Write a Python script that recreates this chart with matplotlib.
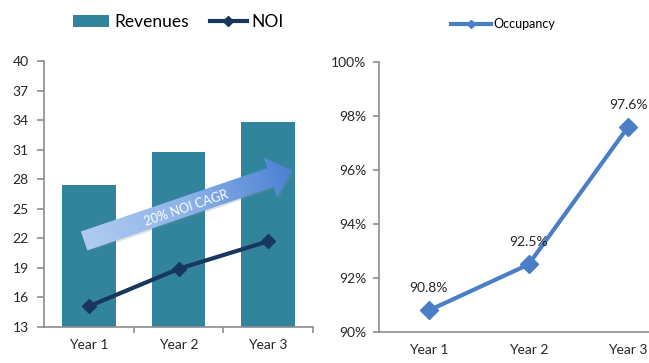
import numpy as np
import matplotlib
matplotlib.use('Agg')
import matplotlib.pyplot as plt
from matplotlib.patches import Polygon, Patch
from matplotlib.lines import Line2D
from matplotlib.transforms import Affine2D
from matplotlib.colors import LinearSegmentedColormap

plt.rcParams['font.family'] = ['Lato', 'DejaVu Sans']

years = ['Year 1', 'Year 2', 'Year 3']
revenues = [27.4, 30.8, 33.8]
noi = [15.1, 18.9, 21.7]
occupancy = [90.8, 92.5, 97.6]
rev_ticks = list(range(13, 41, 3))
occ_ticks = list(range(90, 101, 2))
cagr_label = '20% NOI CAGR'

BAR_COLOR = '#31849B'
NOI_COLOR = '#17375E'
OCC_COLOR = '#4A7EC6'
SPINE_COLOR = '#8C8C8C'
TEXT_COLOR = '#262626'


def style_axes(ax):
    for side in ('top', 'right'):
        ax.spines[side].set_visible(False)
    for side in ('left', 'bottom'):
        ax.spines[side].set_color(SPINE_COLOR)
        ax.spines[side].set_linewidth(1.2)
    ax.tick_params(colors=SPINE_COLOR, labelcolor=TEXT_COLOR, labelsize=10)


def draw_cagr_arrow(fig, ax):
    # arrow built flat in inches, then rotated and moved into place
    length, shaft, head_w, head_len = 2.2, 0.10, 0.21, 0.23
    angle = 18.8
    pts = [(0, -shaft), (length - head_len, -shaft), (length - head_len, -head_w),
           (length, 0), (length - head_len, head_w), (length - head_len, shaft),
           (0, shaft)]
    tr = Affine2D().rotate_deg(angle).translate(0.84, 1.22) + fig.dpi_scale_trans

    shadow_tr = Affine2D().rotate_deg(angle).translate(0.855, 1.205) + fig.dpi_scale_trans
    ax.add_patch(Polygon(pts, closed=True, transform=shadow_tr, facecolor='#7f8c99',
                         alpha=0.25, edgecolor='none', zorder=3))

    poly = Polygon(pts, closed=True, transform=tr, facecolor='none', edgecolor='none', zorder=4)
    ax.add_patch(poly)
    cmap = LinearSegmentedColormap.from_list('cagr', ['#b0cbf0', '#8db2e8', '#4a80d2'])
    grad = np.linspace(0, 1, 256).reshape(1, -1)
    im = ax.imshow(grad, cmap=cmap, extent=(0, length, -head_w, head_w), transform=tr,
                   aspect='auto', interpolation='bilinear', zorder=4)
    im.set_clip_path(poly)
    ax.text(1.07, -0.02, cagr_label, transform=tr, rotation=angle, rotation_mode='anchor',
            ha='center', va='center', color='white', fontsize=9, zorder=5)


fig = plt.figure(figsize=(6.49, 3.63), dpi=100)

# left panel: revenues and NOI
ax1 = fig.add_axes([0.0678, 0.0992, 0.4145, 0.7328])
x = np.arange(len(years))
ax1.bar(x, revenues, width=0.6, color=BAR_COLOR, zorder=2)
ax1.plot(x, noi, color=NOI_COLOR, lw=3, marker='D', ms=7, zorder=6)
draw_cagr_arrow(fig, ax1)
ax1.set_xlim(-0.5, 2.5)
ax1.set_ylim(13, 40)
ax1.set_yticks(rev_ticks)
ax1.set_xticks(x)
ax1.set_xticklabels(years)
ax1.set_xticks([0.5, 1.5, 2.5], minor=True)
style_axes(ax1)
ax1.tick_params(axis='x', which='major', length=0, pad=9)
ax1.tick_params(axis='x', which='minor', length=4, width=1.2, color=SPINE_COLOR)
ax1.tick_params(axis='y', length=5, width=1.2, pad=6)

handles_left = [Patch(facecolor=BAR_COLOR, label='Revenues'),
                Line2D([], [], color=NOI_COLOR, lw=3, marker='D', ms=5, label='NOI')]
fig.legend(handles=handles_left, loc='center', bbox_to_anchor=(0.275, 0.94), ncol=2,
           frameon=False, fontsize=12.5, handlelength=2.1, handletextpad=0.3,
           columnspacing=1.2)

# right panel: occupancy
ax2 = fig.add_axes([0.584, 0.0854, 0.4607, 0.7438])
ax2.plot(x, occupancy, color=OCC_COLOR, lw=3, marker='D', ms=9, zorder=3)
for xi, val in zip(x, occupancy):
    ax2.annotate(f'{val:.1f}%', (xi, val), xytext=(0, 16), textcoords='offset points',
                 ha='center', va='center', fontsize=10, color=TEXT_COLOR)
ax2.set_xlim(-0.5, 2.5)
ax2.set_ylim(90, 100)
ax2.set_yticks(occ_ticks)
ax2.set_yticklabels([f'{t}%' for t in occ_ticks])
ax2.set_xticks(x)
ax2.set_xticklabels(years)
style_axes(ax2)
ax2.tick_params(axis='x', length=0, pad=9)
ax2.tick_params(axis='y', length=4, width=1.2, pad=5)

fig.legend(handles=[Line2D([], [], color=OCC_COLOR, lw=3, marker='D', ms=4, label='Occupancy')],
           loc='center', bbox_to_anchor=(0.775, 0.934), frameon=False, fontsize=9,
           handlelength=3.2, handletextpad=0.2)

fig.savefig('out.png', dpi=100)
